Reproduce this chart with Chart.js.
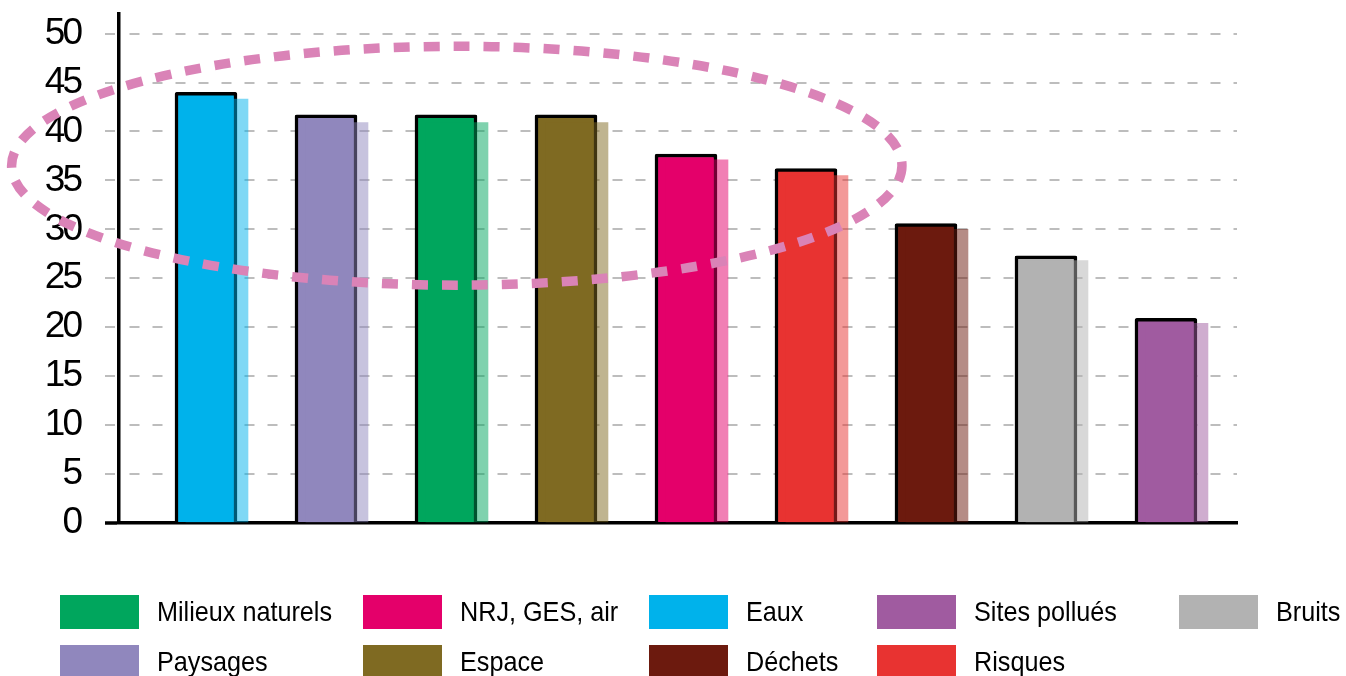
<!DOCTYPE html>
<html lang="fr">
<head>
<meta charset="utf-8">
<title>Thèmes environnementaux</title>
<script src="https://cdn.jsdelivr.net/npm/chart.js@4.4.0/dist/chart.umd.min.js"></script>
<style>
    html, body { margin: 0; padding: 0; background: #fff; }
    #wrap { position: relative; width: 1346px; height: 676px; overflow: hidden; }
    #chart { position: absolute; left: 0; top: 0; }
    #legend {
        position: absolute; left: 60px; top: 595px;
        display: grid;
        grid-template-columns: 303px 286px 228px 302px auto;
        grid-template-rows: 34px 34px;
        row-gap: 16px;
        grid-auto-flow: column;
        font-family: "Liberation Sans", Arial, sans-serif;
        font-size: 28px;
        color: #000;
    }
    .item { display: flex; align-items: center; white-space: nowrap; }
    .swatch { width: 79px; height: 34px; margin-right: 18px; flex: none; }
    .label { display: inline-block; transform: scaleX(0.9); transform-origin: left center; }
</style>
</head>
<body>
<div id="wrap">
    <canvas id="chart" width="1346" height="676"></canvas>
    <div id="legend"></div>
</div>
<script>
// Données
const categories = ['Eaux', 'Paysages', 'Milieux naturels', 'Espace', 'NRJ, GES, air', 'Risques', 'Déchets', 'Bruits', 'Sites pollués'];
const mainValues = [44.0, 41.7, 41.7, 41.7, 37.7, 36.2, 30.6, 27.3, 20.9];
const shadowValues = [43.3, 40.9, 40.9, 40.9, 37.1, 35.5, 30.0, 26.8, 20.4];
const colors = ['#00B2EB', '#9087BD', '#00A65D', '#7F6A22', '#E4006A', '#E83331', '#6C1A0E', '#B2B2B2', '#A05BA0'];
const legendOrder = ['Milieux naturels', 'Paysages', 'NRJ, GES, air', 'Espace', 'Eaux', 'Déchets', 'Sites pollués', 'Risques', 'Bruits'];

// Ellipse de mise en évidence (en unités des axes)
const highlight = { x: 2.09, y: 36.5, rx: 3.71, ry: 12.2 };

const FONT = '"Liberation Sans", Arial, sans-serif';

function withAlpha(hex, a) {
    const n = parseInt(hex.slice(1), 16);
    return 'rgba(' + (n >> 16) + ',' + ((n >> 8) & 255) + ',' + (n & 255) + ',' + a + ')';
}

// Texte des graduations un peu resserré
const narrowText = {
    id: 'narrowText',
    beforeDraw(chart) { chart.ctx.letterSpacing = '-3px'; },
    afterDraw(chart) { chart.ctx.letterSpacing = '0px'; }
};

const highlightPlugin = {
    id: 'highlight',
    afterDatasetsDraw(chart) {
        const x = chart.scales.x, y = chart.scales.y;
        const cx = x.getPixelForValue(highlight.x);
        const cy = y.getPixelForValue(highlight.y);
        const rx = x.getPixelForValue(highlight.x + highlight.rx) - cx;
        const ry = cy - y.getPixelForValue(highlight.y + highlight.ry);
        const ctx = chart.ctx;
        ctx.save();
        ctx.strokeStyle = '#DA83B7';
        ctx.lineWidth = 9.5;
        ctx.setLineDash([16, 14]);
        ctx.beginPath();
        ctx.ellipse(cx, cy, rx, ry, 0, 0, Math.PI * 2);
        ctx.stroke();
        ctx.restore();
    }
};

new Chart(document.getElementById('chart'), {
    type: 'bar',
    data: {
        datasets: [
            {
                label: 'principal',
                data: mainValues.map((v, i) => ({ x: i, y: v })),
                backgroundColor: colors,
                borderColor: '#000',
                borderWidth: 3.5,
                borderRadius: 2,
                borderSkipped: 'start',
                barThickness: 62,
                grouped: false,
                xAxisID: 'x',
                order: 2
            },
            {
                label: 'ombre',
                data: shadowValues.map((v, i) => ({ x: i, y: v })),
                backgroundColor: colors.map(c => withAlpha(c, 0.5)),
                borderWidth: 0,
                barThickness: 62,
                grouped: false,
                xAxisID: 'x2',
                order: 1
            }
        ]
    },
    options: {
        responsive: false,
        animation: false,
        layout: { padding: { left: 0, top: 14, right: 109, bottom: 153 } },
        plugins: {
            legend: { display: false },
            tooltip: { enabled: false }
        },
        scales: {
            x: {
                type: 'linear',
                offset: false,
                min: -0.725,
                max: 8.592,
                ticks: { display: false },
                grid: { display: false, drawTicks: false },
                border: { display: true, color: '#000', width: 3.5 },
                afterFit(scale) { scale.height = 0; scale.paddingLeft = 0; scale.paddingRight = 0; }
            },
            x2: {
                type: 'linear',
                display: false,
                offset: false,
                min: -0.725 - 11 / 120,
                max: 8.592 - 11 / 120
            },
            y: {
                min: 0,
                max: 52,
                ticks: {
                    stepSize: 5,
                    includeBounds: false,
                    padding: 25,
                    color: '#000',
                    font: { family: FONT, size: 37 }
                },
                grid: {
                    color: ctx => ctx.tick && ctx.tick.value === 0 ? 'rgba(0,0,0,0)' : '#BDBDBD',
                    lineWidth: 2,
                    tickLength: 14,
                    tickWidth: ctx => ctx.tick && ctx.tick.value === 0 ? 3.5 : 2,
                    tickColor: ctx => ctx.tick && ctx.tick.value === 0 ? '#000' : '#BDBDBD',
                    tickBorderDash: ctx => ctx.tick && ctx.tick.value === 0 ? [] : [10, 13]
                },
                border: { display: true, color: '#000', width: 3.5, dash: [10, 13], dashOffset: 14 },
                afterFit(scale) {
                    scale.width = 119;
                    scale.paddingTop = 0;
                    scale.paddingBottom = 0;
                }
            }
        }
    },
    plugins: [narrowText, highlightPlugin]
});

// Légende HTML
const legend = document.getElementById('legend');
legendOrder.forEach(name => {
    const i = categories.indexOf(name);
    const item = document.createElement('div');
    item.className = 'item';
    const sw = document.createElement('span');
    sw.className = 'swatch';
    sw.style.background = colors[i];
    const txt = document.createElement('span');
    txt.className = 'label';
    txt.textContent = name;
    item.appendChild(sw);
    item.appendChild(txt);
    legend.appendChild(item);
});
</script>
</body>
</html>
